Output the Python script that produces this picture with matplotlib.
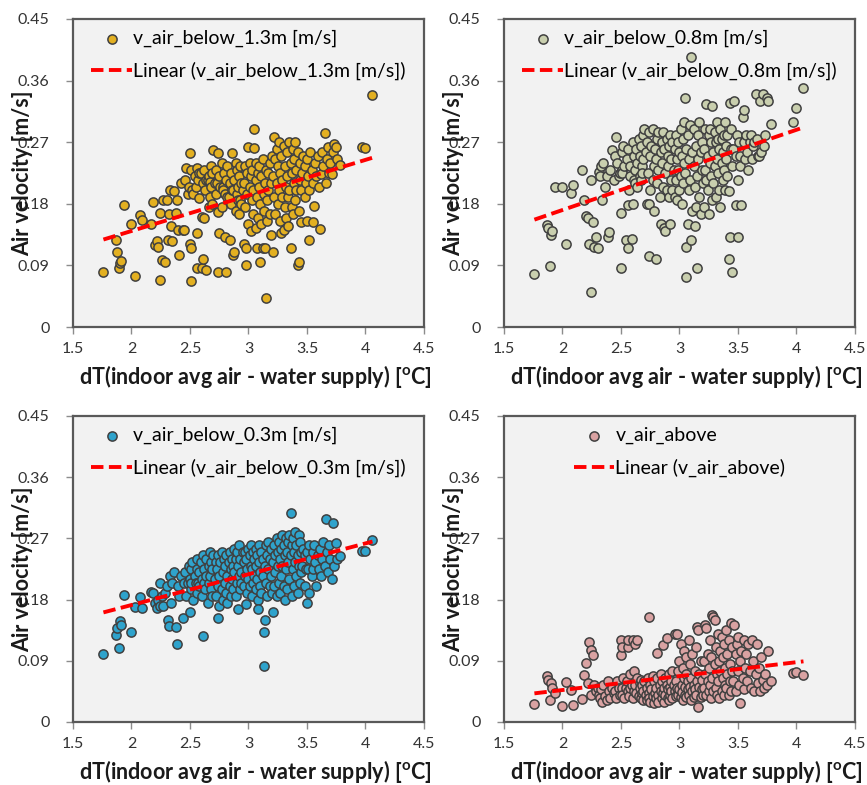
import numpy as np
import matplotlib
matplotlib.use('Agg')
import matplotlib.pyplot as plt

plt.rcParams['font.family'] = ['Lato', 'DejaVu Sans']
plt.rcParams['mathtext.fontset'] = 'custom'
plt.rcParams['mathtext.rm'] = 'Lato'
plt.rcParams['mathtext.bf'] = 'Lato:bold'

### DATA ###
# dT between indoor average air and supply water [C], shared by all sensors
dT = [
    1.76, 1.87, 1.88, 1.89, 1.90, 1.91, 1.94, 2.00, 2.03, 2.07, 2.09, 2.17,
    2.18, 2.20, 2.22, 2.23, 2.24, 2.24, 2.26, 2.27, 2.29, 2.30, 2.31, 2.32,
    2.33, 2.34, 2.35, 2.36, 2.38, 2.39, 2.40, 2.41, 2.42, 2.44,
    2.45, 2.46, 2.47, 2.48, 2.49, 2.50, 2.50, 2.51, 2.51, 2.51,
    2.52, 2.53, 2.54, 2.55, 2.56, 2.56, 2.56, 2.57, 2.58, 2.58,
    2.59, 2.60, 2.60, 2.61, 2.61, 2.62, 2.62, 2.63, 2.64, 2.64,
    2.65, 2.66, 2.66, 2.67, 2.67, 2.68, 2.68, 2.69, 2.69, 2.70,
    2.71, 2.72, 2.72, 2.73, 2.74, 2.74, 2.74, 2.75, 2.75, 2.76,
    2.77, 2.77, 2.78, 2.78, 2.79, 2.80, 2.80, 2.81, 2.81, 2.82,
    2.82, 2.83, 2.84, 2.84, 2.85, 2.85, 2.86, 2.86, 2.87, 2.87,
    2.88, 2.88, 2.89, 2.89, 2.90, 2.90, 2.91, 2.91, 2.92, 2.92,
    2.93, 2.93, 2.94, 2.94, 2.95,
    2.96, 2.96, 2.97, 2.97, 2.98, 2.98, 2.99, 2.99, 3.00, 3.00,
    3.01, 3.01, 3.02, 3.02, 3.03, 3.03, 3.04, 3.04, 3.05, 3.05,
    3.06, 3.06, 3.06, 3.07, 3.07, 3.08, 3.08, 3.09, 3.09, 3.10,
    3.10, 3.11, 3.11, 3.12, 3.12, 3.13, 3.13, 3.14, 3.14, 3.15,
    3.15, 3.16, 3.16, 3.17, 3.17, 3.18, 3.18, 3.19, 3.19, 3.20,
    3.21, 3.21, 3.22, 3.22, 3.23, 3.23, 3.24, 3.24, 3.25, 3.25,
    3.26, 3.26, 3.27, 3.27, 3.28, 3.28, 3.29, 3.29, 3.30, 3.30,
    3.31, 3.31, 3.32, 3.32, 3.33, 3.33, 3.34, 3.34, 3.35, 3.35,
    3.36, 3.36, 3.37, 3.37, 3.38, 3.38, 3.39, 3.39, 3.40, 3.40,
    3.41, 3.41, 3.42, 3.42, 3.43, 3.43, 3.44, 3.44, 3.45, 3.45,
    3.46, 3.47, 3.48, 3.48, 3.49, 3.50, 3.50, 3.51, 3.52, 3.52,
    3.53, 3.54, 3.55, 3.55, 3.56, 3.57, 3.58, 3.59, 3.60, 3.61,
    3.62, 3.63, 3.64, 3.65, 3.66, 3.67, 3.68, 3.69, 3.70, 3.71,
    3.72, 3.73, 3.75, 3.76, 3.78,
    3.97, 4.00, 4.06,
]

# air velocity below 1.3 m [m/s]
v_below_13 = [
    0.081, 0.127, 0.110, 0.086, 0.093, 0.097, 0.178, 0.151, 0.0745, 0.164, 0.156, 0.151,
    0.182, 0.120, 0.125, 0.117, 0.166, 0.069, 0.098, 0.186, 0.095, 0.186, 0.127, 0.165,
    0.200, 0.147, 0.125, 0.198, 0.166, 0.185, 0.142, 0.105, 0.210, 0.142,
    0.142, 0.215, 0.232, 0.195, 0.205, 0.254, 0.122, 0.115, 0.067, 0.229,
    0.200, 0.195, 0.220, 0.205, 0.232, 0.137, 0.086, 0.215, 0.225, 0.188,
    0.225, 0.086, 0.161, 0.100, 0.210, 0.159, 0.230, 0.200, 0.084, 0.215,
    0.215, 0.220, 0.175, 0.212, 0.190, 0.235, 0.205, 0.180, 0.225, 0.259,
    0.210, 0.230, 0.195, 0.210, 0.254, 0.081, 0.168, 0.137, 0.220, 0.205,
    0.240, 0.175, 0.205, 0.200, 0.225, 0.132, 0.195, 0.081, 0.215, 0.190,
    0.235, 0.190, 0.127, 0.210, 0.180, 0.225, 0.254, 0.200, 0.105, 0.200,
    0.110, 0.215, 0.240, 0.170, 0.195, 0.230, 0.185, 0.205, 0.220, 0.165,
    0.185, 0.235, 0.210, 0.180, 0.200,
    0.122, 0.210, 0.235, 0.175, 0.090, 0.115, 0.195, 0.225, 0.263, 0.150,
    0.205, 0.240, 0.140, 0.220, 0.185, 0.230, 0.165, 0.200, 0.261, 0.290,
    0.215, 0.145, 0.240, 0.115, 0.190, 0.225, 0.160, 0.205, 0.235, 0.095,
    0.180, 0.220, 0.150, 0.115, 0.245, 0.195, 0.170, 0.115, 0.210, 0.043,
    0.230, 0.185, 0.155, 0.225, 0.200, 0.240, 0.165, 0.210, 0.135, 0.250,
    0.110, 0.220, 0.278, 0.190, 0.245, 0.165, 0.210, 0.260, 0.180, 0.235,
    0.200, 0.270, 0.155, 0.225, 0.137, 0.250, 0.190, 0.215, 0.142, 0.265,
    0.175, 0.235, 0.205, 0.160, 0.255, 0.220, 0.147, 0.190, 0.270, 0.200,
    0.116, 0.240, 0.175, 0.225, 0.260, 0.165, 0.210, 0.245, 0.185, 0.270,
    0.200, 0.230, 0.090, 0.255, 0.095, 0.170, 0.215, 0.240, 0.153, 0.200,
    0.225, 0.250, 0.190, 0.235, 0.210, 0.155, 0.245, 0.220, 0.127, 0.200,
    0.255, 0.230, 0.154, 0.210, 0.177, 0.240, 0.220, 0.250, 0.205, 0.143,
    0.224, 0.255, 0.235, 0.283, 0.210, 0.245, 0.263, 0.225, 0.239, 0.224,
    0.255, 0.268, 0.263, 0.245, 0.237,
    0.263, 0.261, 0.339,
]

# air velocity below 0.8 m [m/s]
v_below_08 = [
    0.078, 0.149, 0.144, 0.089, 0.134, 0.140, 0.205, 0.205, 0.121, 0.196, 0.207, 0.229,
    0.185, 0.162, 0.159, 0.122, 0.0515, 0.215, 0.154, 0.117, 0.131, 0.115, 0.227, 0.220,
    0.235, 0.186, 0.240, 0.205, 0.220, 0.132, 0.139, 0.230, 0.258, 0.215,
    0.250, 0.278, 0.240, 0.220, 0.225, 0.0857, 0.166, 0.255, 0.230, 0.225,
    0.265, 0.235, 0.127, 0.245, 0.178, 0.115, 0.260, 0.200, 0.235, 0.220,
    0.128, 0.180, 0.270, 0.250, 0.215, 0.210, 0.230, 0.260, 0.205, 0.240,
    0.275, 0.220, 0.250, 0.215, 0.265, 0.235, 0.225, 0.280, 0.245, 0.290,
    0.255, 0.180, 0.270, 0.225, 0.104, 0.180, 0.285, 0.200, 0.250, 0.265,
    0.215, 0.290, 0.235, 0.170, 0.260, 0.099, 0.245, 0.275, 0.210, 0.230,
    0.285, 0.190, 0.255, 0.150, 0.240, 0.270, 0.285, 0.205, 0.145, 0.260,
    0.225, 0.140, 0.275, 0.200, 0.250, 0.235, 0.190, 0.265, 0.150, 0.280,
    0.215, 0.245, 0.270, 0.200, 0.230,
    0.260, 0.190, 0.280, 0.215, 0.245, 0.185, 0.270, 0.230, 0.255, 0.200,
    0.290, 0.220, 0.250, 0.180, 0.275, 0.210, 0.240, 0.300, 0.335, 0.225,
    0.0735, 0.117, 0.260, 0.151, 0.280, 0.200, 0.245, 0.295, 0.215, 0.395,
    0.127, 0.170, 0.255, 0.235, 0.290, 0.148, 0.205, 0.265, 0.175, 0.0857,
    0.220, 0.280, 0.245, 0.190, 0.300, 0.165, 0.255, 0.230, 0.270, 0.210,
    0.175, 0.260, 0.230, 0.290, 0.215, 0.326, 0.250, 0.200, 0.280, 0.165,
    0.240, 0.290, 0.220, 0.270, 0.185, 0.323, 0.255, 0.210, 0.285, 0.235,
    0.270, 0.190, 0.300, 0.245, 0.225, 0.275, 0.200, 0.260, 0.175, 0.290,
    0.240, 0.275, 0.215, 0.255, 0.280, 0.230, 0.200, 0.300, 0.265, 0.245,
    0.280, 0.220, 0.100, 0.198, 0.328, 0.132, 0.260, 0.290, 0.081, 0.235,
    0.260, 0.330, 0.179, 0.250, 0.280, 0.215, 0.132, 0.270, 0.250, 0.235,
    0.179, 0.307, 0.270, 0.317, 0.245, 0.280, 0.255, 0.230, 0.270, 0.280,
    0.245, 0.265, 0.270, 0.340, 0.275, 0.250, 0.250, 0.330, 0.255, 0.340,
    0.265, 0.280, 0.335, 0.330, 0.297,
    0.300, 0.320, 0.349,
]

# air velocity below 0.3 m [m/s]
v_below_03 = [
    0.0998, 0.128, 0.138, 0.1086, 0.148, 0.142, 0.186, 0.133, 0.169, 0.184, 0.167, 0.191,
    0.190, 0.175, 0.167, 0.180, 0.170, 0.205, 0.185, 0.170, 0.190, 0.200, 0.150, 0.141,
    0.215, 0.175, 0.205, 0.220, 0.140, 0.115, 0.200, 0.185, 0.215, 0.153,
    0.205, 0.220, 0.185, 0.205, 0.230, 0.162, 0.210, 0.195, 0.225, 0.205,
    0.235, 0.180, 0.215, 0.205, 0.225, 0.190, 0.240, 0.205, 0.200, 0.220,
    0.235, 0.185, 0.210, 0.126, 0.245, 0.205, 0.225, 0.195, 0.215, 0.240,
    0.175, 0.230, 0.205, 0.250, 0.215, 0.195, 0.235, 0.185, 0.225, 0.245,
    0.210, 0.235, 0.185, 0.225, 0.153, 0.200, 0.245, 0.215, 0.170, 0.235,
    0.195, 0.250, 0.220, 0.180, 0.240, 0.205, 0.230, 0.190, 0.245, 0.215,
    0.175, 0.235, 0.200, 0.250, 0.225, 0.185, 0.240, 0.210, 0.230, 0.195,
    0.255, 0.220, 0.185, 0.240, 0.205, 0.250, 0.166, 0.230, 0.215, 0.260,
    0.195, 0.240, 0.220, 0.205, 0.250,
    0.235, 0.200, 0.250, 0.215, 0.173, 0.240, 0.225, 0.190, 0.255, 0.210,
    0.245, 0.200, 0.230, 0.260, 0.185, 0.225, 0.250, 0.205, 0.240, 0.215,
    0.195, 0.255, 0.230, 0.210, 0.245, 0.180, 0.166, 0.235, 0.260, 0.200,
    0.220, 0.250, 0.190, 0.240, 0.215, 0.0826, 0.133, 0.150, 0.230, 0.260,
    0.205, 0.245, 0.185, 0.225, 0.265, 0.200, 0.240, 0.215, 0.255, 0.190,
    0.161, 0.235, 0.260, 0.200, 0.245, 0.220, 0.270, 0.185, 0.250, 0.230,
    0.205, 0.265, 0.240, 0.190, 0.255, 0.215, 0.275, 0.230, 0.200, 0.260,
    0.245, 0.180, 0.270, 0.225, 0.250, 0.195, 0.265, 0.235, 0.210, 0.275,
    0.308, 0.245, 0.185, 0.260, 0.225, 0.270, 0.200, 0.250, 0.235, 0.280,
    0.215, 0.260, 0.190, 0.245, 0.275, 0.230, 0.205, 0.265, 0.250, 0.220,
    0.230, 0.255, 0.200, 0.245, 0.225, 0.175, 0.250, 0.225, 0.260, 0.190,
    0.240, 0.215, 0.250, 0.225, 0.260, 0.235, 0.200, 0.245, 0.225, 0.255,
    0.215, 0.240, 0.265, 0.230, 0.299, 0.250, 0.220, 0.260, 0.240, 0.210,
    0.292, 0.230, 0.263, 0.240, 0.244,
    0.251, 0.251, 0.268,
]

# air velocity above the occupied zone [m/s]
v_above = [
    0.027, 0.067, 0.062, 0.032, 0.057, 0.050, 0.042, 0.024, 0.059, 0.047, 0.025, 0.034,
    0.069, 0.087, 0.058, 0.117, 0.040, 0.106, 0.098, 0.055, 0.045, 0.050, 0.040, 0.035,
    0.048, 0.030, 0.055, 0.038, 0.032, 0.060, 0.045, 0.035, 0.050, 0.042,
    0.045, 0.035, 0.060, 0.050, 0.040, 0.120, 0.098, 0.050, 0.110, 0.040,
    0.065, 0.035, 0.050, 0.060, 0.110, 0.045, 0.120, 0.038, 0.070, 0.050,
    0.055, 0.120, 0.035, 0.075, 0.045, 0.115, 0.055, 0.042, 0.065, 0.120,
    0.038, 0.058, 0.050, 0.035, 0.062, 0.042, 0.055, 0.032, 0.045, 0.060,
    0.040, 0.050, 0.032, 0.065, 0.155, 0.042, 0.035, 0.055, 0.030, 0.048,
    0.068, 0.038, 0.028, 0.060, 0.042, 0.035, 0.050, 0.102, 0.065, 0.040,
    0.030, 0.055, 0.045, 0.070, 0.035, 0.060, 0.113, 0.042, 0.050, 0.030,
    0.065, 0.040, 0.124, 0.055, 0.035, 0.048, 0.070, 0.032, 0.052, 0.040,
    0.060, 0.045, 0.075, 0.035, 0.055,
    0.045, 0.130, 0.060, 0.038, 0.130, 0.050, 0.040, 0.075, 0.048, 0.090,
    0.036, 0.115, 0.055, 0.044, 0.080, 0.032, 0.065, 0.105, 0.040, 0.052,
    0.070, 0.036, 0.095, 0.048, 0.060, 0.120, 0.040, 0.085, 0.052, 0.032,
    0.065, 0.045, 0.100, 0.055, 0.036, 0.075, 0.048, 0.110, 0.040, 0.060,
    0.140, 0.022, 0.135, 0.052, 0.070, 0.036, 0.090, 0.048, 0.062, 0.040,
    0.090, 0.050, 0.143, 0.070, 0.040, 0.138, 0.060, 0.100, 0.045, 0.080,
    0.120, 0.055, 0.035, 0.095, 0.158, 0.065, 0.155, 0.045, 0.150, 0.085,
    0.050, 0.110, 0.070, 0.040, 0.130, 0.060, 0.090, 0.035, 0.105, 0.075,
    0.045, 0.125, 0.065, 0.095, 0.040, 0.115, 0.055, 0.080, 0.135, 0.050,
    0.100, 0.070, 0.040, 0.120, 0.060, 0.085, 0.045, 0.145, 0.075, 0.110,
    0.060, 0.143, 0.100, 0.045, 0.115, 0.075, 0.125, 0.055, 0.028, 0.090,
    0.105, 0.065, 0.120, 0.048, 0.080, 0.100, 0.060, 0.115, 0.075, 0.050,
    0.120, 0.090, 0.045, 0.070, 0.115, 0.058, 0.080, 0.045, 0.096, 0.062,
    0.050, 0.070, 0.055, 0.104, 0.060,
    0.072, 0.074, 0.069,
]

x_ticks = [1.5, 2.0, 2.5, 3.0, 3.5, 4.0, 4.5]
x_tick_labels = ['1.5', '2', '2.5', '3', '3.5', '4', '4.5']
y_ticks = [0, 0.09, 0.18, 0.27, 0.36, 0.45]
y_tick_labels = ['0', '0.09', '0.18', '0.27', '0.36', '0.45']


### PLOTTING ###
def draw_panel(fig, rect, v, color, name):
    ax = fig.add_axes(rect)
    ax.set_facecolor('#F2F2F2')

    ax.scatter(dT, v, s=44, c=color, edgecolors='#404040', linewidths=1.1,
               zorder=3, label=name)

    # least squares trend line over the measured dT range
    slope, icpt = np.polyfit(dT, v, 1)
    xs = np.array([min(dT), max(dT)])
    ax.plot(xs, slope * xs + icpt, color='#FF0000', lw=2.8,
            ls=(0, (3.2, 1.4)), zorder=4, label=f'Linear ({name})')

    ax.set_xlim(1.5, 4.5)
    ax.set_ylim(0, 0.45)
    ax.set_xticks(x_ticks)
    ax.set_xticklabels(x_tick_labels)
    ax.set_yticks(y_ticks)
    ax.set_yticklabels(y_tick_labels)
    ax.tick_params(direction='out', length=5, width=1, color='#8C8C8C',
                   labelsize=11.5, labelcolor='#333333')
    ax.tick_params(axis='y', pad=12)
    ax.tick_params(axis='x', pad=6)
    for sp in ax.spines.values():
        sp.set_color('#595959')
        sp.set_linewidth(1.6)

    ax.set_xlabel(r'dT(indoor avg air - water supply) [$^{\mathbf{o}}$C]',
                  fontsize=15.5, fontweight='bold', color='#1A1A1A')
    ax.set_ylabel('Air velocity [m/s]', fontsize=15.5, fontweight='bold',
                  color='#1A1A1A')
    # the axis titles sit at a fixed pixel offset below / left of the frame
    bbox = ax.get_position()
    h_px = bbox.height * fig.get_figheight() * fig.dpi
    ax.xaxis.set_label_coords(0.518, -36.0 / h_px)
    ax.yaxis.set_label_coords(-0.115, 0.5)

    ax.legend(loc='upper center', frameon=False, fontsize=14, scatterpoints=1,
              handlelength=2.1, handletextpad=0.05, labelspacing=0.75,
              borderaxespad=0.15)
    return ax


def main():
    fig = plt.figure(figsize=(8.67, 7.85), dpi=100)
    panels = [
        ([0.0842, 0.5834, 0.4048, 0.3924], v_below_13, '#E3B021', 'v_air_below_1.3m [m/s]'),
        ([0.5813, 0.5834, 0.4048, 0.3924], v_below_08, '#C9CFAE', 'v_air_below_0.8m [m/s]'),
        ([0.0842, 0.0803, 0.4048, 0.3898], v_below_03, '#2FA3CC', 'v_air_below_0.3m [m/s]'),
        ([0.5813, 0.0803, 0.4048, 0.3898], v_above, '#D9A2A2', 'v_air_above'),
    ]
    for rect, v, color, name in panels:
        draw_panel(fig, rect, v, color, name)

    fig.savefig('out.png', dpi=100, facecolor='white')


if __name__ == '__main__':
    main()
